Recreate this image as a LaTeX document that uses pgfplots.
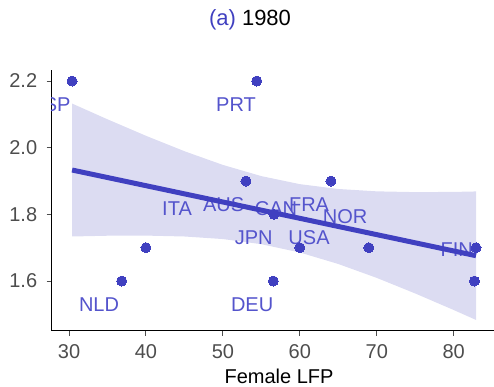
\documentclass[border=0pt]{standalone}
\usepackage{fontspec}
\setmainfont{Liberation Sans}
\usepackage{pgfplots}
\pgfplotsset{compat=1.18}
\definecolor{pblue}{RGB}{64,64,192}
\definecolor{lblue}{RGB}{84,84,204}
\definecolor{rib}{RGB}{160,160,220}
\definecolor{tickgray}{RGB}{77,77,77}
\begin{document}
\begin{tikzpicture}
\useasboundingbox (-51.7pt,-55.3pt) rectangle (442.3pt,330.7pt);
\begin{axis}[
  at={(0pt,0pt)}, anchor=south west,
  scale only axis, width=442.3pt, height=260.7pt,
  xmin=27.75, xmax=85.24, ymin=1.451, ymax=2.233,
  axis x line*=bottom, axis y line*=left,
  axis line style={black, line width=1.2pt, -},
  xtick={30,40,50,60,70,80}, ytick={1.6,1.8,2.0,2.2},
  tick align=outside, major tick length=5pt,
  tick style={tickgray, line width=1pt},
  ticklabel style={font=\fontsize{20}{24}\selectfont, text=tickgray},
  xticklabel style={yshift=-5pt},
  yticklabel style={xshift=-6pt, /pgf/number format/.cd, fixed, fixed zerofill, precision=1},
  /pgf/number format/assume math mode=true,
]
% points
\addplot[pblue, only marks, mark=*, mark size=5pt, mark options={draw=pblue, fill=pblue, line width=0pt}] coordinates {
(30.4,2.2) (54.4,2.2) (36.85,1.6) (40.0,1.7) (53.0,1.9) (56.64,1.8)
(64.05,1.9) (60.0,1.7) (68.97,1.7) (82.9,1.7) (82.7,1.6) (56.55,1.6)
};
% confidence ribbon
\addplot[draw=none, fill=rib, fill opacity=0.37] coordinates {
(30.4,1.7336) (35,1.7359) (40,1.7363) (45,1.7336) (50,1.7259) (55,1.7105)
(60,1.6856) (65,1.6511) (70,1.6094) (75,1.5627) (80,1.5131) (82.9,1.4833)
(82.9,1.8687) (80,1.8673) (75,1.8667) (70,1.8690) (65,1.8761) (60,1.8906)
(55,1.9147) (50,1.9483) (45,1.9894) (40,2.0357) (35,2.0851) (30.4,2.1324)
} -- cycle;
% labels
\begin{scope}[every node/.style={text=lblue, font=\fontsize{20}{24}\selectfont, inner sep=0pt}]
\node at (axis cs:27.6,2.128) {ESP};
\node at (axis cs:51.71,2.128) {PRT};
\node at (axis cs:33.9,1.528) {NLD};
\node at (axis cs:53.8,1.528) {DEU};
\node at (axis cs:44.04,1.816) {ITA};
\node at (axis cs:50.1,1.828) {AUS};
\node at (axis cs:56.9,1.816) {CAN};
\node at (axis cs:61.2,1.828) {FRA};
\node at (axis cs:65.9,1.792) {NOR};
\node at (axis cs:54.0,1.729) {JPN};
\node at (axis cs:61.2,1.729) {USA};
\node at (axis cs:80.4,1.693) {FIN};
\end{scope}
% regression line
\addplot[pblue, line width=5pt] coordinates {(30.4,1.933) (82.9,1.676)};
\end{axis}
\node[font=\fontsize{22}{26}\selectfont] at (198.3pt,311.2pt) {\textcolor{pblue}{(a)} 1980};
\node[font=\fontsize{20}{24}\selectfont] at (227.3pt,-45.3pt) {Female LFP};
\end{tikzpicture}
\end{document}
